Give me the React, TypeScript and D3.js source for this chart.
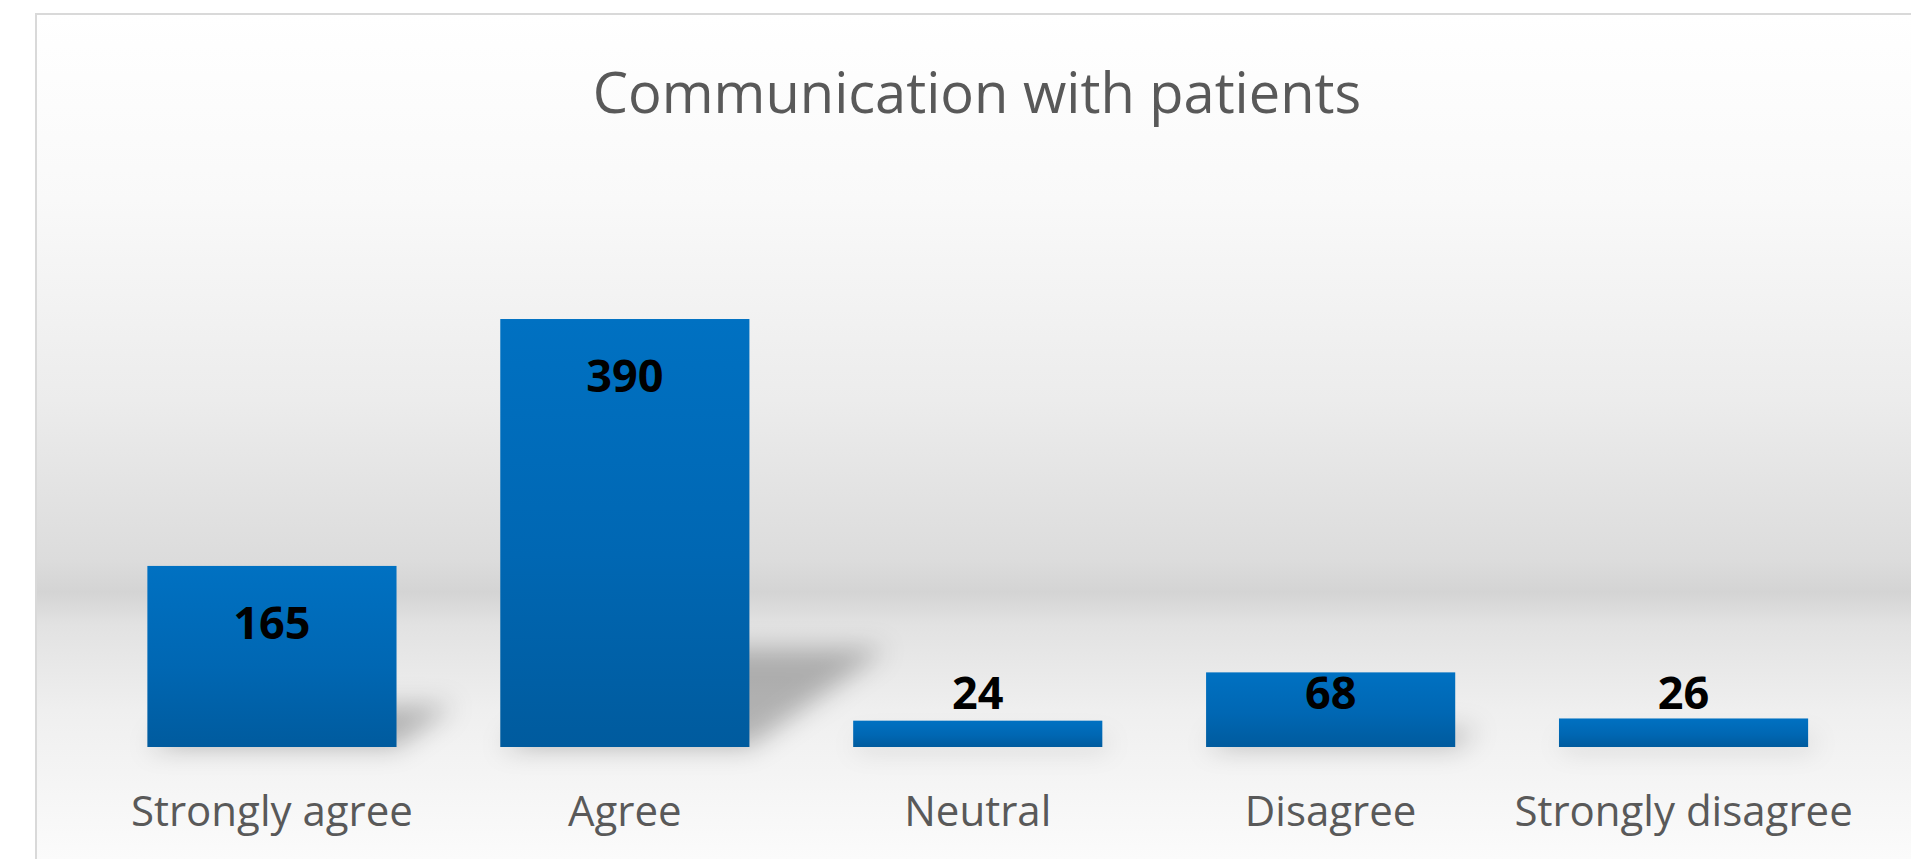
import * as d3 from 'd3'

const categories = ['Strongly agree', 'Agree', 'Neutral', 'Disagree', 'Strongly disagree']
const values = [165, 390, 24, 68, 26]
const yMax = 450

const W = 1911
const H = 859

export default function App() {
  const x = d3.scaleBand<string>()
    .domain(categories)
    .range([95.5, 1860])
    .paddingInner(0.294)
    .paddingOuter(0.147)

  const y = d3.scaleLinear()
    .domain([0, yMax])
    .range([747, 747 - yMax * 1.0974])

  const base = y(0)
  const bw = x.bandwidth()

  // perspective shadow, leaning up and to the right
  const shadowPath = (v: number, x0: number) => {
    const h = base - y(v)
    const dx = h * 0.32
    const dy = h * 0.23
    return `M${x0},${base} L${x0 + bw},${base} L${x0 + bw + dx},${base - dy} L${x0 + dx},${base - dy} Z`
  }

  return (
    <svg width={W} height={H} style={{ position: 'absolute', left: 0, top: 0, display: 'block' }}>
      <defs>
        <linearGradient id="bg" gradientUnits="userSpaceOnUse" x1="0" y1="14" x2="0" y2={H}>
          <stop offset={0} stopColor="#ffffff" />
          <stop offset={(200 - 14) / (H - 14)} stopColor="#f9f9f9" />
          <stop offset={(400 - 14) / (H - 14)} stopColor="#ececec" />
          <stop offset={(560 - 14) / (H - 14)} stopColor="#dcdcdc" />
          <stop offset={(592 - 14) / (H - 14)} stopColor="#d4d4d4" />
          <stop offset={(625 - 14) / (H - 14)} stopColor="#e2e2e2" />
          <stop offset={(710 - 14) / (H - 14)} stopColor="#efefef" />
          <stop offset={1} stopColor="#fbfbfb" />
        </linearGradient>
        <linearGradient id="bar" x1="0" y1="0" x2="0" y2="1">
          <stop offset={0} stopColor="#0071c2" />
          <stop offset={0.55} stopColor="#0067b3" />
          <stop offset={1} stopColor="#005b9e" />
        </linearGradient>
        <filter id="blur" x="-50%" y="-50%" width="200%" height="200%">
          <feGaussianBlur stdDeviation="13" />
        </filter>
      </defs>

      <rect x={0} y={0} width={W} height={H} fill="#ffffff" />
      <rect x={36} y={14} width={W} height={H} fill="url(#bg)" stroke="#d9d9d9" strokeWidth={2} />

      <text
        x={977}
        y={113}
        textAnchor="middle"
        fontFamily="'Open Sans', sans-serif"
        fontSize={56}
        fill="#595959"
      >
        Communication with patients
      </text>

      <g filter="url(#blur)">
        {categories.map((c, i) => (
          <path key={c} d={shadowPath(values[i], x(c)!)} fill="#000" fillOpacity={0.26} />
        ))}
      </g>

      {categories.map((c, i) => (
        <rect
          key={c}
          x={x(c)}
          y={y(values[i])}
          width={bw}
          height={base - y(values[i])}
          fill="url(#bar)"
        />
      ))}

      {categories.map((c, i) => (
        <text
          key={c}
          x={x(c)! + bw / 2}
          y={Math.min(y(values[i]) + 73, base - 38)}
          textAnchor="middle"
          fontFamily="'Open Sans', sans-serif"
          fontWeight="bold"
          fontSize={45}
          fill="#000"
        >
          {values[i]}
        </text>
      ))}

      {categories.map(c => (
        <text
          key={c}
          x={x(c)! + bw / 2}
          y={826}
          textAnchor="middle"
          fontFamily="'Open Sans', sans-serif"
          fontSize={42}
          fill="#595959"
        >
          {c}
        </text>
      ))}
    </svg>
  )
}
